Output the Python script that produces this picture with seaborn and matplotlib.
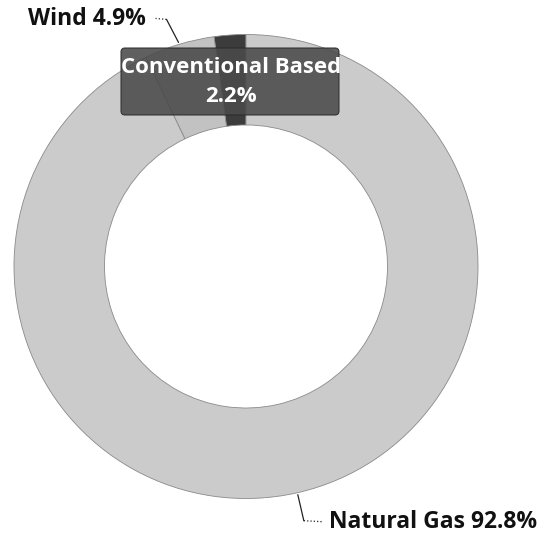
import numpy as np
import matplotlib
matplotlib.use("Agg")
import matplotlib.pyplot as plt
from matplotlib.patches import FancyBboxPatch
import seaborn as sns

sources = ["Conventional Based", "Wind", "Natural Gas"]
shares = [2.2, 4.9, 92.8]
colors = ["#3c3c3c", "#c2c2c2", "#cbcbcb"]

sns.set_theme(style="white")
plt.rcParams['font.family'] = ['Open Sans', 'DejaVu Sans']

W, H = 542, 535
fig = plt.figure(figsize=(W / 100, H / 100), dpi=100)
ax = fig.add_axes([0, 0, 1, 1])

cx, cy, R = 246, 266.5, 232
# y axis is flipped, so counterclock=False draws the same way as a normal CCW pie
wedges, _ = ax.pie(shares, colors=colors, startangle=-90, counterclock=False,
                   center=(cx, cy), radius=R, frame=True,
                   wedgeprops=dict(width=R * 0.39, edgecolor="#8a8a8a", linewidth=0.6))
ax.set_xlim(0, W)
ax.set_ylim(H, 0)
ax.set_aspect("equal")
ax.axis("off")

def edge_point(w, r):
    ang = np.deg2rad((w.theta1 + w.theta2) / 2)
    return cx + r * np.cos(ang), cy + r * np.sin(ang)

lab_font = dict(fontsize=16.5, fontweight="bold", color="#111111")
line_kw = dict(color="#222222", lw=0.9)

# Wind label
x0, y0 = edge_point(wedges[1], R + 2)
ax.plot([x0, x0 - 12], [y0, y0 - 23], **line_kw)
ax.plot([x0 - 12, x0 - 23], [y0 - 23, y0 - 24], ls=":", **line_kw)
ax.text(x0 - 33, y0 - 23, f"{sources[1]} {shares[1]}%", ha="right", va="center", **lab_font)

# Natural gas label
x1, y1 = edge_point(wedges[2], R + 2)
ax.plot([x1, x1 + 6], [y1, y1 + 26], **line_kw)
ax.plot([x1 + 6, x1 + 24], [y1 + 26, y1 + 27], ls=":", **line_kw)
ax.text(x1 + 31, y1 + 27, f"{sources[2]} {shares[2]}%", ha="left", va="center", **lab_font)

# Conventional label in a dark box
box = FancyBboxPatch((122, 49), 216, 65, boxstyle="round,pad=1,rounding_size=4",
                     fc="#4a4a4a", ec="#2a2a2a", lw=0.8, alpha=0.88, zorder=3)
ax.add_patch(box)
ax.text(231, 82, f"{sources[0]}\n{shares[0]}%", ha="center", va="center",
        fontsize=16, fontweight="bold", color="white", linespacing=1.5, zorder=4)

fig.savefig("out.png", dpi=100, facecolor="white")
